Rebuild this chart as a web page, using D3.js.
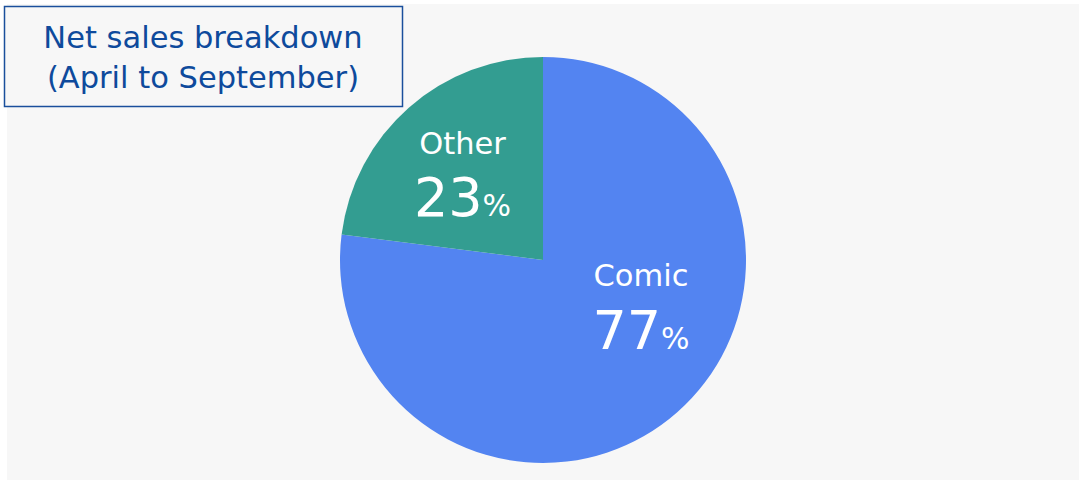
<!DOCTYPE html>
<html><head><meta charset="utf-8">
<script src="https://cdn.jsdelivr.net/npm/d3@7"></script>
<style>body{margin:0;background:#fff;}svg{display:block;}</style>
</head><body>
<svg id="c" width="1079" height="480"></svg>
<script>
const categories = ["Comic", "Other"];
const shares = [77, 23];
const colors = ["#5384f1", "#339d91"];
const titleLines = ["Net sales breakdown", "(April to September)"];

const svg = d3.select("#c");
const font = "'DejaVu Sans', Verdana, sans-serif";
svg.append("rect").attr("x", 7).attr("y", 4).attr("width", 1072).attr("height", 476).attr("fill", "#f7f7f7");

const cx = 543, cy = 260, r = 203;
const pie = d3.pie().sort(null).value(d => d.v);
const arcs = pie(categories.map((c, i) => ({c, v: shares[i], col: colors[i]})));
const arc = d3.arc().innerRadius(0).outerRadius(r);
const g = svg.append("g").attr("transform", `translate(${cx},${cy})`);
g.selectAll("path").data(arcs).join("path").attr("d", arc).attr("fill", d => d.data.col);

const labelPos = {Comic: [98, 26, 89], Other: [-80.5, -106, -44]};
arcs.forEach(d => {
  const [x, y, y2] = labelPos[d.data.c];
  g.append("text").attr("text-anchor", "middle").attr("fill", "#fff").attr("font-family", font)
    .attr("x", x).attr("y", y).attr("font-size", 30.5).text(d.data.c);
  const t2 = g.append("text").attr("text-anchor", "middle").attr("fill", "#fff").attr("font-family", font)
    .attr("x", x).attr("y", y2);
  t2.append("tspan").attr("font-size", 54).text(d.data.v);
  t2.append("tspan").attr("font-size", 30).text("%");
});

svg.append("rect").attr("x", 4.5).attr("y", 6.5).attr("width", 398).attr("height", 100)
  .attr("fill", "#f7f7f7").attr("stroke", "#1a4f9c").attr("stroke-width", 1.5);
titleLines.forEach((t, i) => {
  svg.append("text").attr("x", 203).attr("y", 48 + i * 40).attr("text-anchor", "middle")
    .attr("font-family", font).attr("font-size", 30.5).attr("fill", "#0e4a9c").text(t);
});
</script>
</body></html>
